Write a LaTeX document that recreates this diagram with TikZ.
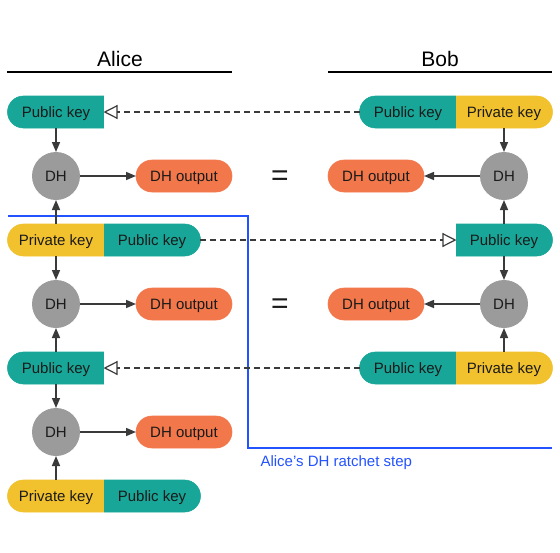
\documentclass[tikz,border=0pt]{standalone}
\usepackage{fontspec}
\setmainfont{Liberation Sans}
\usetikzlibrary{shapes.misc,arrows.meta}
\definecolor{tealk}{HTML}{17A697}
\definecolor{yelk}{HTML}{F2C12E}
\definecolor{orak}{HTML}{F2784B}
\definecolor{grayk}{HTML}{9B9B9B}
\definecolor{bluek}{HTML}{2352FF}
\definecolor{linek}{HTML}{3A3A3A}
\definecolor{txtk}{HTML}{1A1A1A}
\begin{document}
\begin{tikzpicture}[x=1pt,y=-1pt,
  lbl/.style={font=\fontsize{15}{18}\selectfont, text=txtk},
  keyshape/.style={lbl, rounded rectangle, minimum width=96pt, minimum height=32pt, inner sep=0pt, outer sep=0pt, text height=11pt, text depth=0pt, line width=0.6pt},
  pubL/.style={keyshape, fill=tealk, draw=tealk, rounded rectangle east arc=none},
  pubR/.style={keyshape, fill=tealk, draw=tealk, rounded rectangle west arc=none},
  privL/.style={keyshape, fill=yelk, draw=yelk, rounded rectangle east arc=none},
  privR/.style={keyshape, fill=yelk, draw=yelk, rounded rectangle west arc=none},
  outbox/.style={keyshape, fill=orak, draw=orak},
  dhnode/.style={lbl, circle, fill=grayk, minimum size=48pt, inner sep=0pt, outer sep=0pt, text height=11pt, text depth=0pt},
  eqsign/.style={font=\fontsize{30}{30}\selectfont, text=txtk},
  title/.style={font=\fontsize{21}{24}\selectfont, text=black},
  arr/.style={draw=linek, line width=1.5pt, -{Triangle[length=10pt,width=8pt]}},
  darr/.style={draw=linek, line width=1.5pt, dash pattern=on 6pt off 4pt, -{Triangle[open,length=14pt,width=14pt,line width=1.2pt]}},
  ratchet/.style={draw=bluek, line width=2pt},
]
\useasboundingbox (0,0) rectangle (560,552);

% titles
\node[title] (alice) at (120,59) {Alice};
\node[title] (bob) at (440,59) {Bob};
\draw[line width=1.5pt] (7,72) -- (232,72);
\draw[line width=1.5pt] (328,72) -- (552,72);

% ratchet step outline
\draw[ratchet] (8,216) -- (248,216) -- (248,448) -- (552,448);
\node[lbl, text=bluek, anchor=west] (rlabel) at (257,463) {Alice’s DH ratchet step};

% row 1
\node[pubL] (pA1) at (56,112) {Public key};
\node[pubL] (pB1) at (408,112) {Public key};
\node[privR] (sB1) at (504,112) {Private key};
% row 2
\node[dhnode] (dA2) at (56,176) {DH};
\node[outbox] (oA2) at (184,176) {DH output};
\node[eqsign] (eq2) at (280,178) {=};
\node[outbox] (oB2) at (376,176) {DH output};
\node[dhnode] (dB2) at (504,176) {DH};
% row 3
\node[privL] (sA3) at (56,240) {Private key};
\node[pubR] (pA3) at (152,240) {Public key};
\node[pubR] (pB3) at (504,240) {Public key};
% row 4
\node[dhnode] (dA4) at (56,304) {DH};
\node[outbox] (oA4) at (184,304) {DH output};
\node[eqsign] (eq4) at (280,306) {=};
\node[outbox] (oB4) at (376,304) {DH output};
\node[dhnode] (dB4) at (504,304) {DH};
% row 5
\node[pubL] (pA5) at (56,368) {Public key};
\node[pubL] (pB5) at (408,368) {Public key};
\node[privR] (sB5) at (504,368) {Private key};
% row 6
\node[dhnode] (dA6) at (56,432) {DH};
\node[outbox] (oA6) at (184,432) {DH output};
% row 7
\node[privL] (sA7) at (56,496) {Private key};
\node[pubR] (pA7) at (152,496) {Public key};

% dashed transfers
\draw[darr] (pB1.west) -- (pA1.east);
\draw[darr] (pA3.east) -- (pB3.west);
\draw[darr] (pB5.west) -- (pA5.east);

% Alice arrows
\draw[arr] (pA1.south) -- (dA2.north);
\draw[arr] (sA3.north) -- (dA2.south);
\draw[arr] (sA3.south) -- (dA4.north);
\draw[arr] (pA5.north) -- (dA4.south);
\draw[arr] (pA5.south) -- (dA6.north);
\draw[arr] (sA7.north) -- (dA6.south);
\draw[arr] (dA2.east) -- (oA2.west);
\draw[arr] (dA4.east) -- (oA4.west);
\draw[arr] (dA6.east) -- (oA6.west);

% Bob arrows
\draw[arr] (sB1.south) -- (dB2.north);
\draw[arr] (pB3.north) -- (dB2.south);
\draw[arr] (pB3.south) -- (dB4.north);
\draw[arr] (sB5.north) -- (dB4.south);
\draw[arr] (dB2.west) -- (oB2.east);
\draw[arr] (dB4.west) -- (oB4.east);
\end{tikzpicture}
\end{document}
